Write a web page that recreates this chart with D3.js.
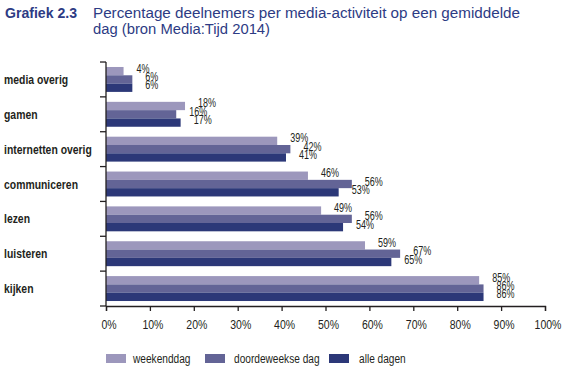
<!DOCTYPE html>
<html><head><meta charset="utf-8">
<script src="https://cdn.jsdelivr.net/npm/d3@7"></script>
<style>
body{margin:0;background:#fff;}
svg{display:block;}
text{font-family:"Liberation Sans",Arial,sans-serif;}
</style></head><body>
<svg id="c" width="568" height="372"></svg>
<script>
const categories = ["media overig","gamen","internetten overig","communiceren","lezen","luisteren","kijken"];
const seriesNames = ["weekenddag","doordeweekse dag","alle dagen"];
const weekenddag = [4,18,39,46,49,59,85];
const doordeweekse = [6,16,42,56,56,67,86];
const alleDagen = [6,17,41,53,54,65,86];
const xTicks = [0,10,20,30,40,50,60,70,80,90,100];
const colors = ["#9c97bc","#636496","#2c3878"];

const series = [weekenddag, doordeweekse, alleDagen];
const svg = d3.select("#c");
const x = d3.scaleLinear().domain([0,100]).range([106,545]);
const y = d3.scaleBand().domain(categories).range([62,306]).paddingInner(0.285).paddingOuter(0.143);
const ys = d3.scaleBand().domain(d3.range(3)).range([0,y.bandwidth()]);

function condense(sel, f){
  sel.each(function(){
    const L = this.getComputedTextLength();
    d3.select(this).attr("textLength", L*f).attr("lengthAdjust","spacingAndGlyphs");
  });
  return sel;
}
function fitTo(sel, w){
  sel.attr("textLength", w).attr("lengthAdjust","spacingAndGlyphs");
  return sel;
}

// title
const tc = "#2d3b84";
fitTo(svg.append("text").attr("x",5).attr("y",18).attr("fill",tc)
  .style("font-size","14px").style("font-weight","bold").text("Grafiek 2.3"), 72);
fitTo(svg.append("text").attr("x",93).attr("y",18).attr("fill",tc)
  .style("font-size","14px").text("Percentage deelnemers per media-activiteit op een gemiddelde"), 427);
fitTo(svg.append("text").attr("x",93).attr("y",34).attr("fill",tc)
  .style("font-size","14px").text("dag (bron Media:Tijd 2014)"), 177);

// bars
const g = svg.append("g");
categories.forEach((c,i)=>{
  series.forEach((s,j)=>{
    g.append("rect").attr("x",x(0)).attr("y",y(c)+ys(j))
     .attr("width",x(s[i])-x(0)).attr("height",ys.bandwidth()).attr("fill",colors[j]);
  });
});
// value labels
categories.forEach((c,i)=>{
  series.forEach((s,j)=>{
    condense(svg.append("text").attr("x",x(s[i])+13).attr("y",y(c)+ys(j)+ys.bandwidth()/2+1.5)
      .style("font-size","12.5px").attr("fill","#231f20").text(s[i]+"%"), 0.72);
  });
});

// y axis
const yAxisG = svg.append("g");
yAxisG.append("line").attr("x1",106).attr("x2",106).attr("y1",62).attr("y2",306).attr("stroke","#231f20").attr("stroke-width",1.3);
const yTickPos = categories.map(c=>y(c)-y.step()*y.paddingInner()/2).concat([306]);
yTickPos.forEach(p=>{
  yAxisG.append("line").attr("x1",100).attr("x2",106).attr("y1",p).attr("y2",p).attr("stroke","#231f20").attr("stroke-width",1.3);
});
categories.forEach(c=>{
  condense(svg.append("text").attr("x",4).attr("y",y(c)+y.bandwidth()/2+4.5)
    .style("font-size","13px").style("font-weight","bold").attr("fill","#231f20").text(c), 0.8);
});

// x axis
const xAxis = d3.axisBottom(x).tickValues(xTicks).tickFormat(d=>d+"%").tickSize(5).tickPadding(9);
const xg = svg.append("g").attr("transform","translate(0,306)").call(xAxis);
xg.select(".domain").attr("stroke","#231f20").attr("stroke-width",1.3);
xg.selectAll(".tick line").attr("stroke","#231f20").attr("stroke-width",1.3);
const tt = xg.selectAll(".tick text").attr("dx",2.5).style("font-size","12.5px").style("font-family","Liberation Sans,Arial,sans-serif").attr("fill","#231f20");
condense(tt, 0.84);

// legend
const legX = [106,205,329];
const legTX = [133,234,359];
seriesNames.forEach((n,j)=>{
  svg.append("rect").attr("x",legX[j]).attr("y",354).attr("width",20).attr("height",9).attr("fill",colors[j]);
  condense(svg.append("text").attr("x",legTX[j]).attr("y",362.5).style("font-size","12.5px").attr("fill","#231f20").text(n), 0.81);
});
</script></body></html>
